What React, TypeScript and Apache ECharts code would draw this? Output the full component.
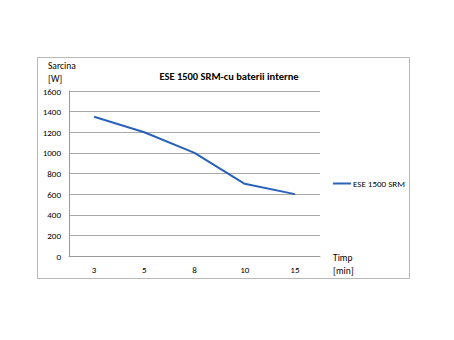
import React, { useEffect, useRef } from "react";
import * as echarts from "echarts";

const categories = ["3", "5", "8", "10", "15"];
const seriesName = "ESE 1500 SRM";
const values = [1350, 1200, 1000, 700, 600];
const titleText = "ESE 1500 SRM-cu baterii interne";
const yName = ["Sarcina", "[W]"];
const xName = ["Timp", "[min]"];

const FONT = "Carlito, Calibri, 'Liberation Sans Narrow', 'Open Sans', sans-serif";

export default function App() {
  const ref = useRef<HTMLDivElement>(null);
  useEffect(() => {
    if (!ref.current) return;
    const chart = echarts.init(ref.current, undefined, { renderer: "svg" });
    chart.setOption({
      animation: false,
      backgroundColor: "#ffffff",
      textStyle: { fontFamily: FONT },
      title: {
        text: titleText,
        left: 224,
        top: 66,
        textAlign: "center",
        textStyle: { fontSize: 10.5, fontWeight: "bold", color: "#000", fontFamily: FONT },
      },
      legend: {
        data: [seriesName],
        left: 328,
        top: 174,
        icon: "rect",
        itemWidth: 18,
        itemHeight: 2,
        itemGap: 4,
        textStyle: { fontSize: 9, color: "#000", fontFamily: FONT, padding: [0, 0, 0, -3] },
      },
      grid: { left: 69, top: 91, width: 251, height: 165 },
      xAxis: {
        type: "category",
        data: categories,
        boundaryGap: true,
        axisLine: { show: true, lineStyle: { color: "#9a9a9a", width: 1 } },
        axisTick: { show: false },
        axisLabel: { fontSize: 9, color: "#000", margin: 9, fontFamily: FONT },
      },
      yAxis: {
        type: "value",
        min: 0,
        max: 1600,
        interval: 200,
        axisLine: { show: true, lineStyle: { color: "#9a9a9a", width: 1 } },
        axisTick: { show: false },
        axisLabel: {
          fontSize: 9,
          color: "#000",
          margin: 8,
          fontFamily: FONT,
          formatter: (v: number) => String(v),
        },
        splitLine: { show: true, lineStyle: { color: "#a8a8a8", width: 1 } },
      },
      series: [
        {
          name: seriesName,
          type: "line",
          data: values,
          symbol: "none",
          lineStyle: { color: "#2a62b8", width: 2 },
          itemStyle: { color: "#2a62b8" },
        },
      ],
      graphic: [
        {
          type: "rect",
          shape: { x: 37.5, y: 57.5, width: 372, height: 221 },
          style: { fill: "none", stroke: "#b8b8b8", lineWidth: 1 },
          silent: true,
          z: -1,
        },
        {
          type: "text",
          x: 48,
          y: 60,
          style: { text: yName.join("\n"), fontSize: 9.5, lineHeight: 12.5, fill: "#000", fontFamily: FONT },
        },
        {
          type: "text",
          x: 333,
          y: 251,
          style: { text: xName.join("\n"), fontSize: 9.5, lineHeight: 13, fill: "#000", fontFamily: FONT },
        },
      ],
    });
    return () => chart.dispose();
  }, []);
  return (
    <div
      ref={ref}
      style={{ position: "fixed", left: 0, top: 0, width: 454, height: 340, background: "#fff" }}
    />
  );
}
